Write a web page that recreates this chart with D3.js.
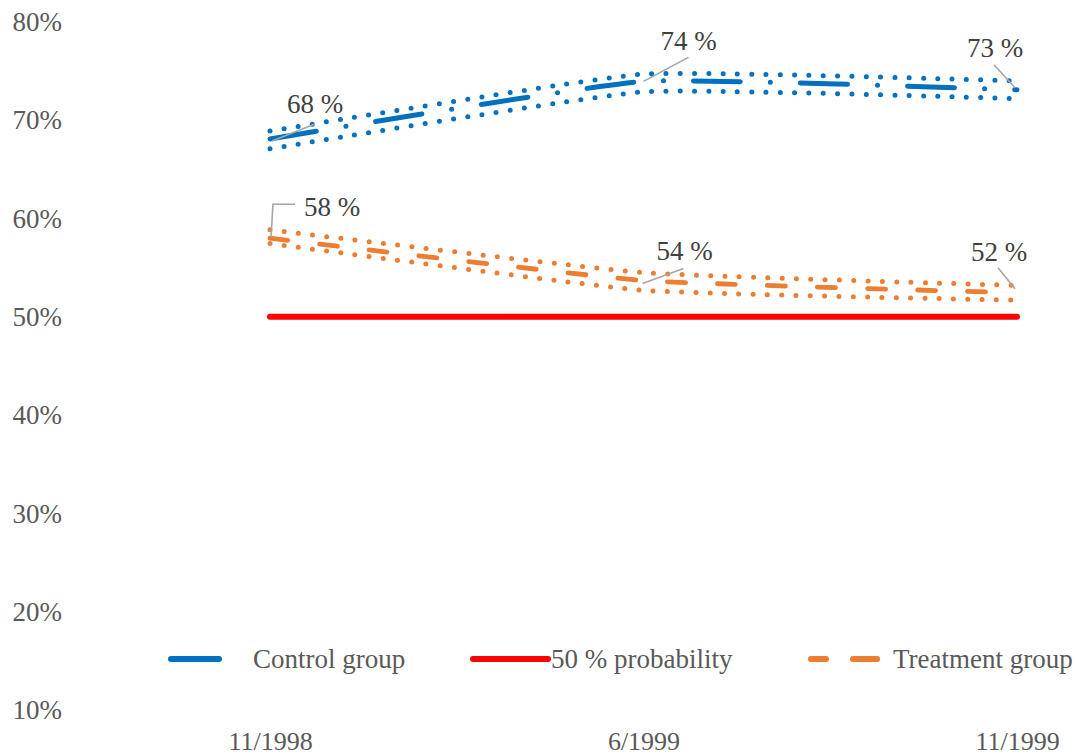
<!DOCTYPE html>
<html>
<head>
<meta charset="utf-8">
<script src="https://cdn.jsdelivr.net/npm/d3@7"></script>
<style>
  html, body { margin: 0; padding: 0; background: #ffffff; }
  svg { display: block; font-family: "Liberation Serif", "Times New Roman", serif; }
</style>
</head>
<body>
<svg id="chart" width="1076" height="756"></svg>
<script>
// Survey waves (category axis)
const periods = ["11/1998", "6/1999", "11/1999"];

// Share of respondents, per group, with interval bounds
const controlValues = [0.681, 0.7396, 0.731];
const controlUpper  = [0.689, 0.747, 0.740];
const controlLower  = [0.671, 0.729, 0.722];

const treatmentValues = [0.58, 0.537, 0.5245];
const treatmentUpper  = [0.5885, 0.545, 0.532];
const treatmentLower  = [0.5746, 0.527, 0.517];

const referenceValue = 0.5;

const yTicks = [0.1, 0.2, 0.3, 0.4, 0.5, 0.6, 0.7, 0.8];

const seriesNames = ["Control group", "50 % probability", "Treatment group"];

// colours
const BLUE = "#0070C0", ORANGE = "#ED7D31", RED = "#FF0000";
const TEXT = "#595959", LABEL = "#404040", LEADER = "#A6A6A6";

const svg = d3.select("#chart");

const x = d3.scalePoint().domain(periods).range([270, 1017]);
const y = d3.scaleLinear().domain([0.1, 0.8]).range([710, 22]);

// axes: labels only, no lines
const yAxis = d3.axisLeft(y).tickValues(yTicks).tickFormat(d3.format(".0%")).tickSize(0).tickPadding(0);
const gy = svg.append("g").attr("transform", "translate(62,0)").call(yAxis);
gy.select(".domain").remove();
gy.selectAll("text").attr("fill", TEXT).style("font-size", "27px").style("font-family", "Liberation Serif");

const xAxis = d3.axisBottom(x).tickSize(0).tickPadding(0);
const gx = svg.append("g").attr("transform", "translate(0,732)").call(xAxis);
gx.select(".domain").remove();
gx.selectAll("text").attr("fill", TEXT).style("font-size", "26px").style("font-family", "Liberation Serif");

// lightly smoothed lines
const curve = d3.curveCardinal.tension(0.6);
const line = d3.line().x((d, i) => x(periods[i])).y(d => y(d)).curve(curve);

function drawLine(values, color, width, dash) {
  svg.append("path")
    .attr("d", line(values))
    .attr("fill", "none")
    .attr("stroke", color)
    .attr("stroke-width", width)
    .attr("stroke-linecap", "round")
    .attr("stroke-dasharray", dash);
}

// reference line at 50 %
svg.append("path")
  .attr("d", d3.line().x(d => x(d)).y(() => y(referenceValue))(periods))
  .attr("fill", "none").attr("stroke", RED).attr("stroke-width", 6).attr("stroke-linecap", "round");

// treatment group with interval
drawLine(treatmentUpper, ORANGE, 5, "0 14.3");
drawLine(treatmentLower, ORANGE, 5, "0 14.3");
drawLine(treatmentValues, ORANGE, 4.8, "18 32");

// control group with interval
drawLine(controlUpper, BLUE, 5, "0 14.3");
drawLine(controlLower, BLUE, 5, "0 14.3");
drawLine(controlValues, BLUE, 5, "47 30 0 30");

// data labels with leader lines
const labelLayout = [
  { values: controlValues,   i: 0, tx: 45,  ty: -35, leader: [[2, 2], [45, -15]] },
  { values: controlValues,   i: 1, tx: 45,  ty: -40, leader: [[0, 0], [45, -24]] },
  { values: controlValues,   i: 2, tx: -22, ty: -42, leader: [[-2, -2], [-23, -25]] },
  { values: treatmentValues, i: 0, tx: 62,  ty: -31, leader: [[1, -1], [3, -34], [25, -34]] },
  { values: treatmentValues, i: 1, tx: 41,  ty: -29, leader: [[-1, 3], [40, -12]] },
  { values: treatmentValues, i: 2, tx: -18, ty: -41, leader: [[-2, -4], [-19, -25]] }
];

labelLayout.forEach(l => {
  const v = l.values[l.i];
  const px = x(periods[l.i]), py = y(v);
  svg.append("path")
    .attr("d", d3.line()(l.leader.map(p => [px + p[0], py + p[1]])))
    .attr("fill", "none").attr("stroke", LEADER).attr("stroke-width", 1.6);
  svg.append("text")
    .attr("x", px + l.tx).attr("y", py + l.ty)
    .attr("dy", "0.33em")
    .attr("text-anchor", "middle")
    .attr("fill", LABEL)
    .style("font-size", "27px")
    .text(Math.round(v * 100) + " %");
});

// legend
const legendY = 659;
const legendItems = [
  { name: seriesNames[0], color: BLUE,   segs: [[168, 222]], tx: 253 },
  { name: seriesNames[1], color: RED,    segs: [[470, 551]], tx: 551 },
  { name: seriesNames[2], color: ORANGE, segs: [[808, 829], [850, 880]], tx: 893 }
];
legendItems.forEach(item => {
  item.segs.forEach(s => {
    svg.append("line")
      .attr("x1", s[0] + 3).attr("x2", s[1] - 3)
      .attr("y1", legendY).attr("y2", legendY)
      .attr("stroke", item.color).attr("stroke-width", 6).attr("stroke-linecap", "round");
  });
  svg.append("text")
    .attr("x", item.tx).attr("y", legendY).attr("dy", "0.33em")
    .attr("fill", TEXT).style("font-size", "27px")
    .text(item.name);
});
</script>
</body>
</html>
